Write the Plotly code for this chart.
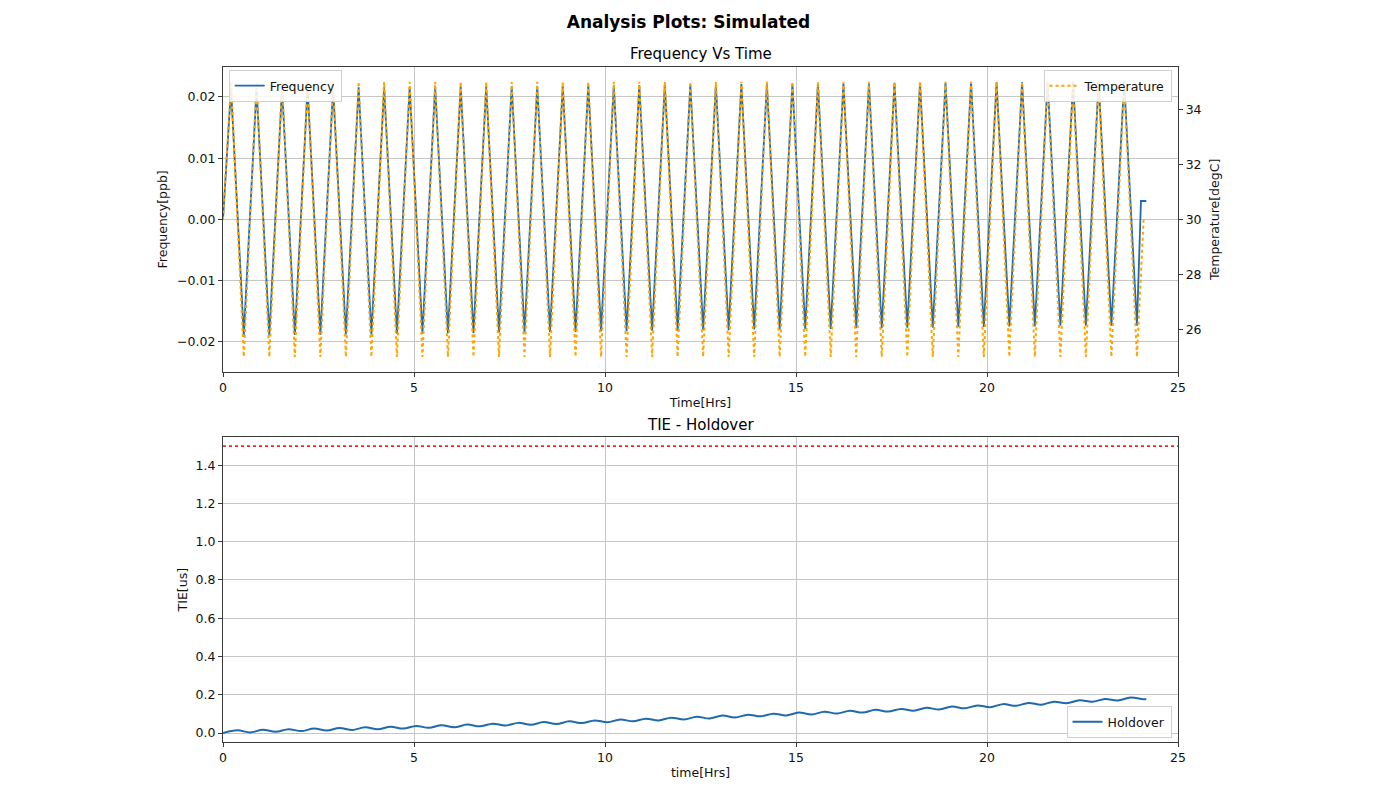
import plotly.graph_objects as go

# ---------------- data ----------------
# Turning points (hours) of the frequency / temperature triangle waves
start_time = 0.0
peak_times = [0.21, 0.878, 1.546, 2.214, 2.882, 3.55, 4.218, 4.886, 5.554, 6.222, 6.89, 7.558,
              8.226, 8.894, 9.562, 10.23, 10.898, 11.566, 12.234, 12.902, 13.57, 14.238, 14.906, 15.574,
              16.242, 16.91, 17.578, 18.246, 18.914, 19.582, 20.25, 20.918, 21.586, 22.254, 22.922, 23.59]
trough_times = [0.545, 1.213, 1.881, 2.549, 3.217, 3.885, 4.553, 5.221, 5.889, 6.557, 7.225, 7.893,
                8.561, 9.229, 9.897, 10.565, 11.233, 11.901, 12.569, 13.237, 13.905, 14.573, 15.241, 15.909,
                16.577, 17.245, 17.913, 18.581, 19.249, 19.917, 20.585, 21.253, 21.921, 22.589, 23.257, 23.925]

# Frequency [ppb]
freq_start = 0.0
freq_peaks = [0.0214, 0.0214, 0.0215, 0.0215, 0.0215, 0.0216, 0.0216, 0.0216, 0.0217, 0.0217, 0.0217, 0.0218,
              0.0218, 0.0218, 0.0219, 0.0219, 0.0219, 0.0220, 0.0220, 0.0220, 0.0221, 0.0221, 0.0221, 0.0222,
              0.0222, 0.0222, 0.0223, 0.0223, 0.0223, 0.0224, 0.0224, 0.0224, 0.0225, 0.0225, 0.0225, 0.0226]
freq_troughs = [-0.0190, -0.0190, -0.0189, -0.0189, -0.0188, -0.0188, -0.0187, -0.0187, -0.0186, -0.0186,
                -0.0185, -0.0185, -0.0184, -0.0184, -0.0183, -0.0183, -0.0182, -0.0182, -0.0181, -0.0181,
                -0.0180, -0.0180, -0.0179, -0.0179, -0.0178, -0.0178, -0.0177, -0.0177, -0.0176, -0.0176,
                -0.0175, -0.0175, -0.0174, -0.0174, -0.0174, -0.0174]
freq_end_times = [24.03, 24.17]
freq_end_values = [0.003, 0.003]

# Temperature [degC]
temp_start = 30.0
temp_peaks = [35.0, 35.0, 35.0, 35.0, 35.0, 35.0, 35.0, 35.0, 35.0, 35.0, 35.0, 35.0,
              35.0, 35.0, 35.0, 35.0, 35.0, 35.0, 35.0, 35.0, 35.0, 35.0, 35.0, 35.0,
              35.0, 35.0, 35.0, 35.0, 35.0, 35.0, 35.0, 35.0, 35.0, 35.0, 35.0, 35.0]
temp_troughs = [25.0, 25.0, 25.0, 25.0, 25.0, 25.0, 25.0, 25.0, 25.0, 25.0, 25.0, 25.0,
                25.0, 25.0, 25.0, 25.0, 25.0, 25.0, 25.0, 25.0, 25.0, 25.0, 25.0, 25.0,
                25.0, 25.0, 25.0, 25.0, 25.0, 25.0, 25.0, 25.0, 25.0, 25.0, 25.0, 25.0]
temp_end_time = 24.10
temp_end_value = 30.0

# TIE holdover [us] at its local extremes (hours)
holdover_time = [0.0, 0.378, 0.712, 1.046, 1.38, 1.714, 2.048, 2.382, 2.716, 3.05, 3.384, 3.718, 4.052,
                 4.386, 4.72, 5.054, 5.388, 5.722, 6.056, 6.39, 6.724, 7.058, 7.392, 7.726, 8.06, 8.394,
                 8.728, 9.062, 9.396, 9.73, 10.064, 10.398, 10.732, 11.066, 11.4, 11.734, 12.068, 12.402,
                 12.736, 13.07, 13.404, 13.738, 14.072, 14.406, 14.74, 15.074, 15.408, 15.742, 16.076,
                 16.41, 16.744, 17.078, 17.412, 17.746, 18.08, 18.414, 18.748, 19.082, 19.416, 19.75,
                 20.084, 20.418, 20.752, 21.086, 21.42, 21.754, 22.088, 22.422, 22.756, 23.09, 23.424,
                 23.758, 24.092, 24.17]
holdover_tie = [0.0, 0.014, 0.003, 0.017, 0.006, 0.020, 0.010, 0.023, 0.013, 0.026, 0.016, 0.030, 0.020,
                0.033, 0.023, 0.037, 0.027, 0.041, 0.030, 0.044, 0.035, 0.049, 0.039, 0.053, 0.043, 0.057,
                0.047, 0.061, 0.052, 0.066, 0.056, 0.071, 0.061, 0.075, 0.066, 0.080, 0.071, 0.085,
                0.076, 0.091, 0.081, 0.096, 0.087, 0.101, 0.092, 0.107, 0.097, 0.111, 0.102,
                0.116, 0.107, 0.121, 0.112, 0.126, 0.117, 0.132, 0.123, 0.138, 0.129, 0.144,
                0.135, 0.151, 0.142, 0.157, 0.148, 0.164, 0.156, 0.171, 0.163, 0.178, 0.170,
                0.186, 0.177, 0.178]
tie_limit = 1.5
time_extent = [0, 25]

x_ticks = [0, 5, 10, 15, 20, 25]
freq_ticks = [-0.02, -0.01, 0.0, 0.01, 0.02]
temp_ticks = [26, 28, 30, 32, 34]
tie_ticks = [0.0, 0.2, 0.4, 0.6, 0.8, 1.0, 1.2, 1.4]

# ---------------- build vertex tables ----------------
freq_t, freq_v = [start_time], [freq_start]
temp_t, temp_v = [start_time], [temp_start]
for pt, tt, fp, ftr, tp, ttr in zip(peak_times, trough_times, freq_peaks, freq_troughs, temp_peaks, temp_troughs):
    freq_t += [pt, tt]
    freq_v += [fp, ftr]
    temp_t += [pt, tt]
    temp_v += [tp, ttr]
freq_t += freq_end_times
freq_v += freq_end_values
temp_t.append(temp_end_time)
temp_v.append(temp_end_value)

# ---------------- figure ----------------
FONT = "DejaVu Sans"
BLUE = "#1f6aad"
ORANGE = "#ffa500"
GRID = "#c6c6c6"
SPINE = "#3a3a3a"

# page body has an 8px margin: figure is placed at (8, 8)
W, H = 1359, 775
ML, MR, MT, MB = 214.5, 188.5, 59, 41

fig = go.Figure()
fig.add_trace(go.Scatter(x=freq_t, y=freq_v, mode="lines", name="Frequency",
                         line=dict(color=BLUE, width=1.8), xaxis="x", yaxis="y", legend="legend"))
fig.add_trace(go.Scatter(x=temp_t, y=temp_v, mode="lines", name="Temperature",
                         line=dict(color=ORANGE, width=2, dash="dot"), xaxis="x", yaxis="y2", legend="legend2"))
fig.add_trace(go.Scatter(x=holdover_time, y=holdover_tie, mode="lines", name="Holdover",
                         line=dict(color=BLUE, width=2, shape="spline", smoothing=1.0),
                         xaxis="x2", yaxis="y3", legend="legend3"))
fig.add_trace(go.Scatter(x=time_extent, y=[tie_limit, tie_limit], mode="lines", showlegend=False,
                         line=dict(color="#ff2020", width=1.6, dash="dot"), xaxis="x2", yaxis="y3"))

top_dom = [0.5486, 1.0]
bot_dom = [0.0, 0.4514]

axis_common = dict(showline=True, linecolor=SPINE, linewidth=1.3, mirror=True,
                   ticks="outside", ticklen=4, tickwidth=1, tickcolor=SPINE,
                   gridcolor=GRID, gridwidth=1.2, zeroline=False, automargin=False,
                   tickfont=dict(family=FONT, size=12.5, color="#111"))
title_font = dict(family=FONT, size=12.5, color="#111")
legend_common = dict(bgcolor="rgba(255,255,255,0.85)", bordercolor="#d0d0d0", borderwidth=1,
                     font=dict(family=FONT, size=12.5, color="#111"), itemwidth=30)

fig.update_layout(
    width=W, height=H, autosize=False,
    paper_bgcolor="white", plot_bgcolor="white",
    margin=dict(l=ML, r=MR, t=MT, b=MB),
    font=dict(family=FONT, color="#111"),
    title=dict(text="<b>Analysis Plots: Simulated</b>", x=680.5 / W, xref="container", xanchor="center",
               y=1 - 14 / H, yref="container", yanchor="middle",
               font=dict(family=FONT, size=17, color="#000")),
    xaxis=dict(axis_common, domain=[0, 1], anchor="y", range=time_extent, tickvals=x_ticks,
               showgrid=True, title=dict(text="Time[Hrs]", font=title_font, standoff=4)),
    yaxis=dict(axis_common, domain=top_dom, anchor="x", range=[-0.0249, 0.0249], tickvals=freq_ticks,
               tickformat=".2f", showgrid=True,
               title=dict(text="Frequency[ppb]", font=title_font, standoff=6)),
    yaxis2=dict(axis_common, overlaying="y", side="right", anchor="x", range=[24.46, 35.54],
                tickvals=temp_ticks, showgrid=False, mirror=False,
                title=dict(text="Temperature[degC]", font=title_font, standoff=9)),
    xaxis2=dict(axis_common, domain=[0, 1], anchor="y3", range=time_extent, tickvals=x_ticks,
                showgrid=True, title=dict(text="time[Hrs]", font=title_font, standoff=4)),
    yaxis3=dict(axis_common, domain=bot_dom, anchor="x2", range=[-0.047, 1.546], tickvals=tie_ticks,
                tickformat=".1f", showgrid=True,
                title=dict(text="TIE[us]", font=title_font, standoff=5)),
    legend=dict(legend_common, x=0.006, y=(742 - 70) / 675, xanchor="left", yanchor="top"),
    legend2=dict(legend_common, x=(1172 - 222.5) / 956, y=(742 - 70) / 675, xanchor="right", yanchor="top"),
    legend3=dict(legend_common, x=(1172 - 222.5) / 956, y=(742 - 738) / 675, xanchor="right", yanchor="bottom"),
    annotations=[
        dict(text="Frequency Vs Time", xref="paper", yref="paper", x=0.5, y=(742 - 54) / 675,
             xanchor="center", yanchor="middle", showarrow=False,
             font=dict(family=FONT, size=15, color="#000")),
        dict(text="TIE - Holdover", xref="paper", yref="paper", x=0.5, y=(742 - 425) / 675,
             xanchor="center", yanchor="middle", showarrow=False,
             font=dict(family=FONT, size=15, color="#000")),
    ],
)

fig.write_html("out.html")
